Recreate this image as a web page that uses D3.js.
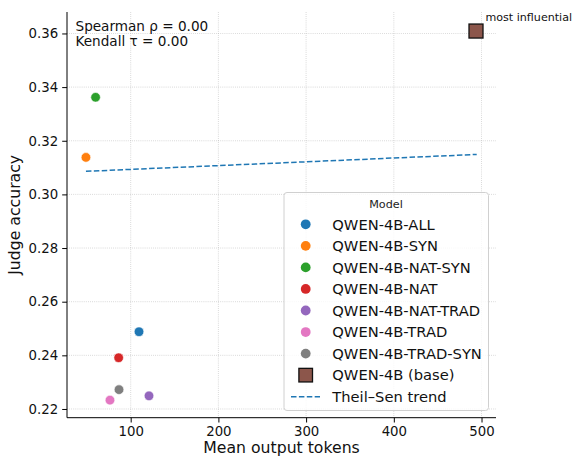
<!DOCTYPE html>
<html>
<head>
<meta charset="utf-8">
<script src="https://cdn.jsdelivr.net/npm/d3@7"></script>
<style>
  html, body { margin: 0; padding: 0; background: #fff; }
  svg { display: block; font-family: "DejaVu Sans", sans-serif; }
</style>
</head>
<body>
<svg id="chart" width="575" height="458"></svg>
<script>
// ---- data ----
const models = ["QWEN-4B-ALL", "QWEN-4B-SYN", "QWEN-4B-NAT-SYN", "QWEN-4B-NAT", "QWEN-4B-NAT-TRAD", "QWEN-4B-TRAD", "QWEN-4B-TRAD-SYN"];
const meanTokens = [109.5, 49, 60, 86.3, 120.9, 76.4, 86.7];
const judgeAccuracy = [0.2488, 0.3138, 0.3362, 0.2391, 0.2249, 0.2233, 0.2272];
const colors = ["#1f77b4", "#ff7f0e", "#2ca02c", "#d62728", "#9467bd", "#e377c2", "#7f7f7f"];
const baseModel = "QWEN-4B (base)";
const baseTokens = 493.7;
const baseAccuracy = 0.3609;
const baseColor = "#8c564b";
const trendX = [49, 494.5];
const trendY = [0.3086, 0.3149];
const xTicks = [100, 200, 300, 400, 500];
const yTicks = [0.22, 0.24, 0.26, 0.28, 0.30, 0.32, 0.34, 0.36];
const statsText = ["Spearman \u03c1 = 0.00", "Kendall \u03c4 = 0.00"];

// ---- layout ----
const svg = d3.select("#chart");
const L = 67, R = 496, T = 12, B = 417.7;
const x = d3.scaleLinear().domain([27.4, 516.5]).range([L, R]);
const y = d3.scaleLinear().domain([0.21675, 0.3680]).range([B, T]);

// grid
const grid = svg.append("g");
xTicks.forEach(t => grid.append("line")
  .attr("x1", x(t)).attr("x2", x(t)).attr("y1", T).attr("y2", B)
  .attr("stroke", "#b0b0b0").attr("stroke-width", 0.8).attr("stroke-dasharray", "0.8,1.3").attr("opacity", 0.7));
yTicks.forEach(t => grid.append("line")
  .attr("x1", L).attr("x2", R).attr("y1", y(t)).attr("y2", y(t))
  .attr("stroke", "#b0b0b0").attr("stroke-width", 0.8).attr("stroke-dasharray", "0.8,1.3").attr("opacity", 0.7));

// axes
const xAxis = d3.axisBottom(x).tickValues(xTicks).tickSize(4.8).tickPadding(4).tickFormat(d3.format("d"));
const yAxis = d3.axisLeft(y).tickValues(yTicks).tickSize(4.8).tickPadding(4).tickFormat(d3.format(".2f"));
const gx = svg.append("g").attr("transform", `translate(0,${B})`).call(xAxis);
const gy = svg.append("g").attr("transform", `translate(${L},0)`).call(yAxis);
[gx, gy].forEach(g => {
  g.select(".domain").attr("stroke", "#000").attr("stroke-width", 1);
  g.selectAll(".tick line").attr("stroke", "#000").attr("stroke-width", 1);
  g.selectAll(".tick text").attr("fill", "#111").style("font-size", "13.3px").style("font-family", "DejaVu Sans");
});
gx.select(".domain").attr("d", `M${L},0H${R}`);
gy.select(".domain").attr("d", `M0,${B}V${T}`);

// axis labels
svg.append("text").attr("x", (L + R) / 2).attr("y", 453).attr("text-anchor", "middle")
  .style("font-size", "15.7px").attr("fill", "#111").text("Mean output tokens");
svg.append("text").attr("transform", `translate(20,${(T + B) / 2}) rotate(-90)`).attr("text-anchor", "middle")
  .style("font-size", "15.7px").attr("fill", "#111").text("Judge accuracy");

// trend line
svg.append("line")
  .attr("x1", x(trendX[0])).attr("y1", y(trendY[0]))
  .attr("x2", x(trendX[1])).attr("y2", y(trendY[1]))
  .attr("stroke", "#1f77b4").attr("stroke-width", 1.5).attr("stroke-dasharray", "5.5,2.4");

// points
svg.append("g").selectAll("circle").data(models).join("circle")
  .attr("cx", (d, i) => x(meanTokens[i]))
  .attr("cy", (d, i) => y(judgeAccuracy[i]))
  .attr("r", 4.8)
  .attr("fill", (d, i) => colors[i])
  .attr("stroke", "#fff").attr("stroke-width", 0.6);

// base model square
const sq = 14;
svg.append("rect")
  .attr("x", x(baseTokens) - sq / 2).attr("y", y(baseAccuracy) - sq / 2)
  .attr("width", sq).attr("height", sq)
  .attr("fill", baseColor).attr("stroke", "#111").attr("stroke-width", 1.3);
svg.append("text").attr("x", x(baseTokens) + 9.5).attr("y", y(baseAccuracy) - 10)
  .style("font-size", "11.1px").attr("fill", "#111").text("most influential");

// stats text
statsText.forEach((s, i) => svg.append("text")
  .attr("x", 75.5).attr("y", 31 + i * 14.8)
  .style("font-size", "13.6px").attr("fill", "#111").text(s));

// legend
const lg = svg.append("g");
lg.append("rect").attr("x", 284).attr("y", 192.5).attr("width", 204.5).attr("height", 218)
  .attr("rx", 3).attr("fill", "#fff").attr("fill-opacity", 0.8)
  .attr("stroke", "#d0d0d0").attr("stroke-width", 1);
lg.append("text").attr("x", 386).attr("y", 208).attr("text-anchor", "middle")
  .style("font-size", "11.2px").attr("fill", "#222").text("Model");
const rowY0 = 224.3, rowDy = 21.55, mx = 305.7, tx = 332.3;
models.forEach((m, i) => {
  const yy = rowY0 + i * rowDy;
  lg.append("circle").attr("cx", mx).attr("cy", yy).attr("r", 4.9).attr("fill", colors[i]);
  lg.append("text").attr("x", tx).attr("y", yy + 5.3).style("font-size", "14.7px").attr("fill", "#111").text(m);
});
{
  const yy = rowY0 + 7 * rowDy;
  lg.append("rect").attr("x", mx - 6.8).attr("y", yy - 6.8).attr("width", 13.6).attr("height", 13.6)
    .attr("fill", baseColor).attr("stroke", "#111").attr("stroke-width", 1.3);
  lg.append("text").attr("x", tx).attr("y", yy + 5.3).style("font-size", "14.7px").attr("fill", "#111").text(baseModel);
  const yt = rowY0 + 8 * rowDy;
  lg.append("line").attr("x1", 291).attr("x2", 320).attr("y1", yt).attr("y2", yt)
    .attr("stroke", "#1f77b4").attr("stroke-width", 1.5).attr("stroke-dasharray", "5.5,2.4");
  lg.append("text").attr("x", tx).attr("y", yt + 5.3).style("font-size", "14.7px").attr("fill", "#111").text("Theil\u2013Sen trend");
}
</script>
</body>
</html>
